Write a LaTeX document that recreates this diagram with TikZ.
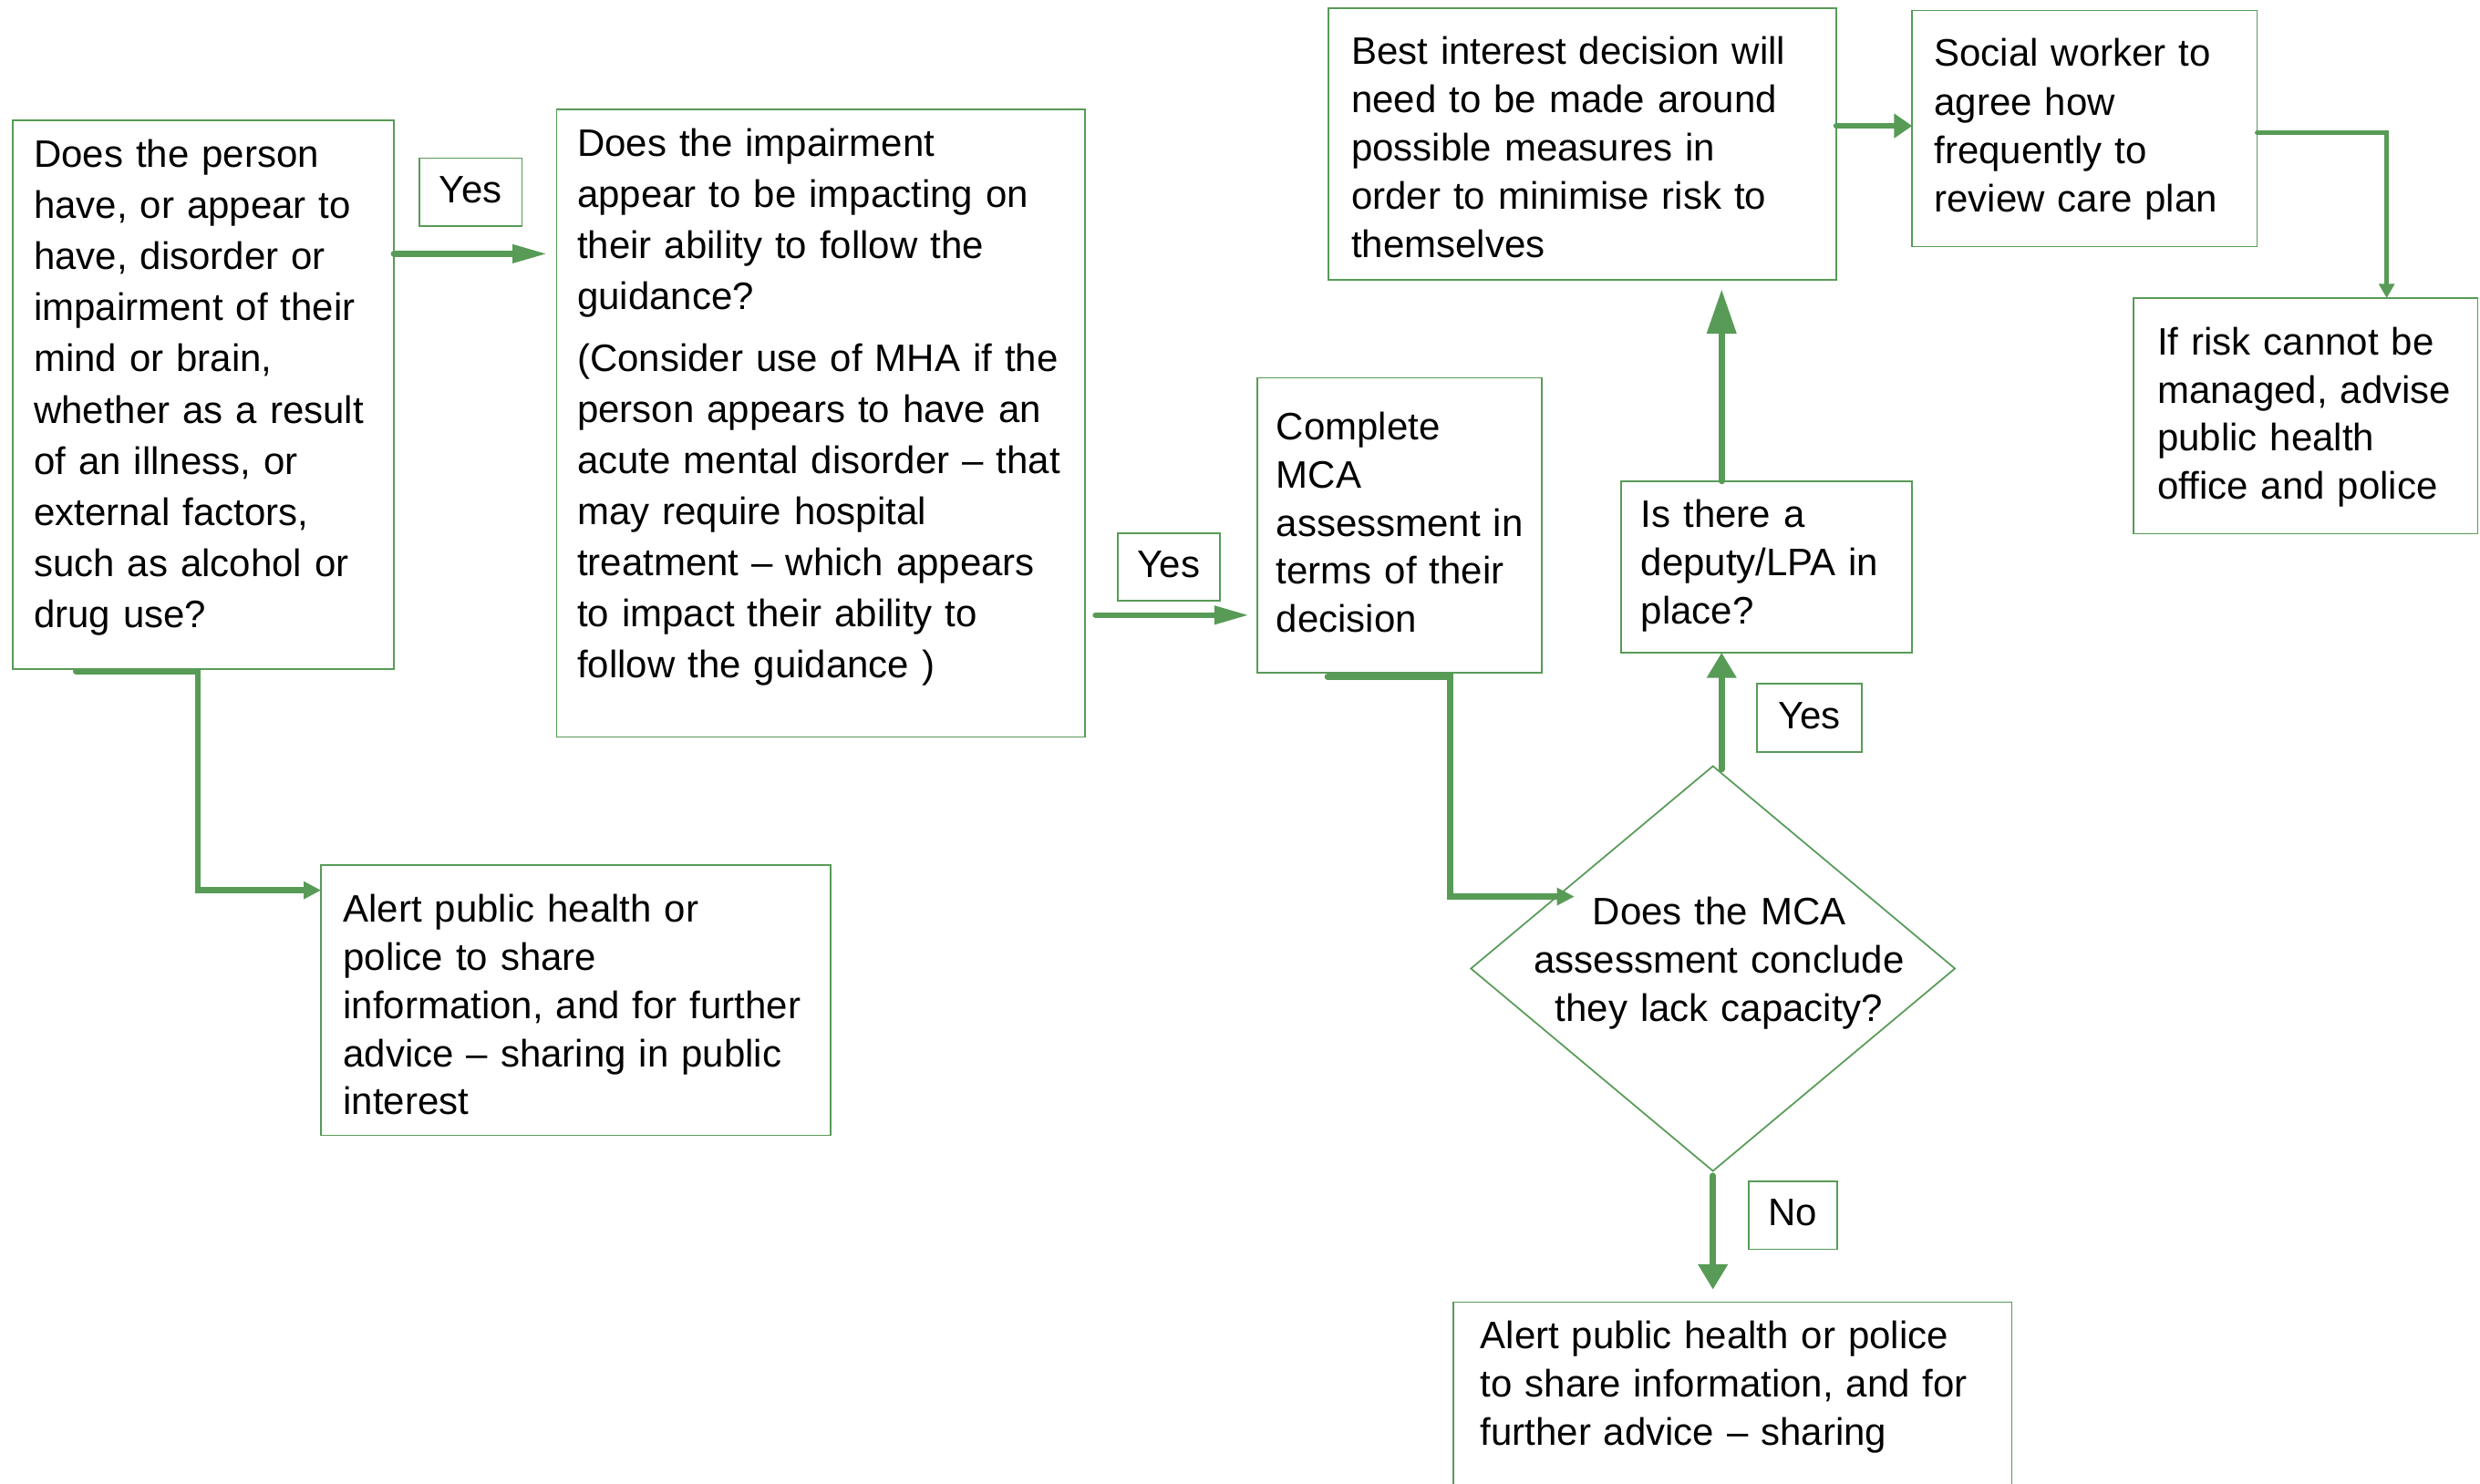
\documentclass[tikz,border=0pt]{standalone}
\usepackage{fontspec}
\setmainfont{Liberation Sans}
\usetikzlibrary{arrows.meta,calc,shapes.geometric}
\definecolor{grn}{RGB}{87,155,87}
\begin{document}
\begin{tikzpicture}[x=1pt,y=-1pt,
  box/.style={draw=grn, line width=1pt, rectangle, inner sep=0pt, outer sep=0pt},
  lbl/.style={box, font=\fontsize{24.2}{30}\selectfont, text height=17.3pt, text depth=3.7pt},
  txt/.style={anchor=base west, inner sep=0pt, outer sep=0pt, align=left, text width=420pt, font=\fontsize{24.2}{30.5}\selectfont},
  tA/.style={txt, font=\fontsize{24.2}{32.4}\selectfont},
  tB/.style={txt, font=\fontsize{24.2}{32.3}\selectfont},
  conn/.style={draw=grn, line width=3.8pt, line cap=round},
  thinconn/.style={draw=grn, line width=2.7pt, line cap=round},
  arrA/.style={-{Triangle[length=22pt,width=11pt]}},
  arrS/.style={-{Triangle[length=11pt,width=10.6pt]}},
  arrY/.style={-{Triangle[length=16pt,width=18pt]}},
  arrU/.style={-{Triangle[length=28pt,width=18pt]}},
  arrF/.style={-{Triangle[length=11.5pt,width=15pt]}},
  arrN/.style={-{Triangle[length=16pt,width=18pt]}},
  arrT/.style={-{Triangle[length=9pt,width=9.6pt]}}
]
\useasboundingbox (0,0) rectangle (1568,938);
\clip (0,0) rectangle (1568,938);
\fill[white] (0,0) rectangle (1568,938);

% boxes
\node[box, minimum width=241pt, minimum height=347pt] (qa) at (128.5,249.5) {};
\node[box, minimum width=334pt, minimum height=397pt] (qb) at (519,267.5) {};
\node[box, minimum width=322pt, minimum height=171pt] (qc) at (364,632.5) {};
\node[box, minimum width=179.6pt, minimum height=186.5pt] (qd) at (884.8,332.25) {};
\node[box, minimum width=184pt, minimum height=108.4pt] (qe) at (1117,358.5) {};
\node[box, minimum width=321pt, minimum height=172pt] (qf) at (1000.5,91) {};
\node[box, minimum width=218pt, minimum height=149.4pt] (qg) at (1318,81.3) {};
\node[box, minimum width=217.6pt, minimum height=149pt] (qh) at (1457.8,263) {};
\node[box, minimum width=353pt, minimum height=136.5pt] (qi) at (1095.5,891.75) {};
\node[draw=grn, line width=1pt, diamond, inner sep=0pt, outer sep=0pt, minimum width=306pt, minimum height=256pt] (qm) at (1083,612.5) {};

% texts
\node[tA] (qat) at (21.5,105.5) {Does the person\\have, or appear to\\have, disorder or\\impairment of their\\mind or brain,\\whether as a result\\of an illness, or\\external factors,\\such as alcohol or\\drug use?};
\node[tB] (qbt) at (365,99) {Does the impairment\\appear to be impacting on\\their ability to follow the\\guidance?\\[6.7pt](Consider use of MHA if the\\person appears to have an\\acute mental disorder – that\\may require hospital\\treatment – which appears\\to impact their ability to\\follow the guidance )};
\node[txt] (qct) at (217,583) {Alert public health or\\police to share\\information, and for further\\advice – sharing in public\\interest};
\node[txt] (qdt) at (807,278) {Complete\\MCA\\assessment in\\terms of their\\decision};
\node[txt, font=\fontsize{24.2}{30.4}\selectfont] (qet) at (1037.5,333.7) {Is there a\\deputy/LPA in\\place?};
\node[txt] (qft) at (854.5,40.8) {Best interest decision will\\need to be made around\\possible measures in\\order to minimise risk to\\themselves};
\node[txt, font=\fontsize{24.2}{30.7}\selectfont] (qgt) at (1223,42) {Social worker to\\agree how\\frequently to\\review care plan};
\node[txt, font=\fontsize{24.2}{30.3}\selectfont] (qht) at (1364,224.6) {If risk cannot be\\managed, advise\\public health\\office and police};
\node[txt] (qit) at (936,852.8) {Alert public health or police\\to share information, and for\\further advice – sharing};
\node[anchor=base, inner sep=0pt, align=center, text width=300pt, font=\fontsize{24.2}{30.5}\selectfont] (qmt) at (1087,585) {Does the MCA\\assessment conclude\\they lack capacity?};

% labels
\node[lbl, minimum width=65pt, minimum height=43pt] (y1) at (297.5,121.5) {Yes};
\node[lbl, minimum width=64.7pt, minimum height=42.8pt] (y2) at (739,358.6) {Yes};
\node[lbl, minimum width=66pt, minimum height=43pt] (y3) at (1144,454) {Yes};
\node[lbl, minimum width=56pt, minimum height=43pt] (nolbl) at (1133.6,768.5) {No};

% connectors
\draw[conn, arrA] ($(qa.east)+(0,-89)$) -- ($(qb.west)+(-6,-107)$);
\draw[conn, arrS] ($(qa.south west)+(40,1.5)$) -- ++(77,0) |- ($(qc.west)+(0,-69.5)$);
\draw[conn, arrA] ($(qb.east)+(6.7,121.5)$) -- ($(qd.west)+(-5.2,56.75)$);
\draw[conn, arrS] ($(qd.south west)+(44.3,2.5)$) -- ++(77.7,0) |- ($(qm.west)+(65.4,-45.5)$);
\draw[conn, arrY] ($(qm.north)+(5.5,2)$) -- ($(qe.south)+(-28.5,0)$);
\draw[conn, arrU] ($(qe.north)+(-28.5,0)$) -- ($(qf.south)+(88,6)$);
\draw[conn, arrF] ($(qf.east)+(0,-11.4)$) -- ($(qg.west)+(0,-1.7)$);
\draw[thinconn, arrT] ($(qg.east)+(0,2.7)$) -| ($(qh.north)+(51.2,0)$);
\draw[conn, arrN] ($(qm.south)+(0,3)$) -- ($(qi.north)+(-12.5,-8)$);
\end{tikzpicture}
\end{document}
